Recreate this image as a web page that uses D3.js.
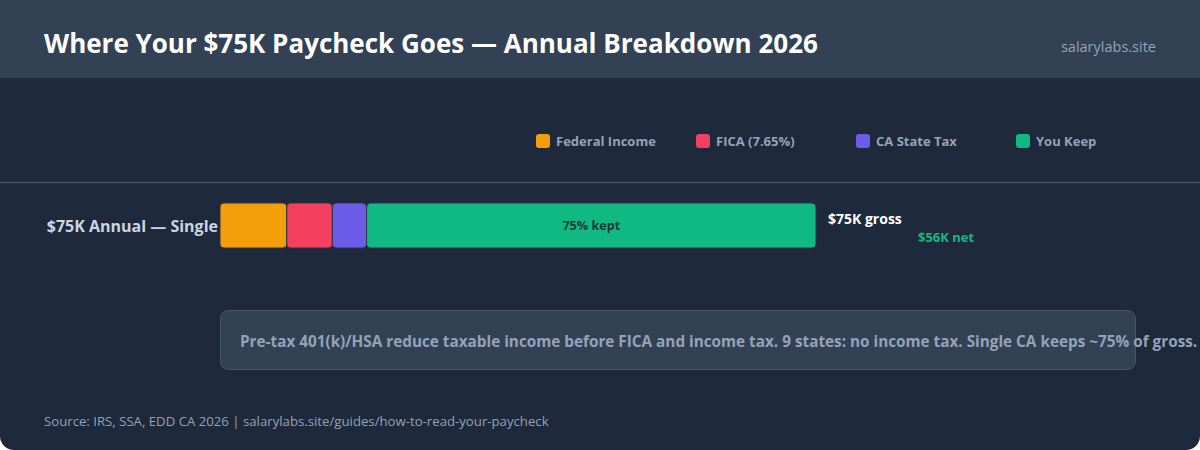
<!DOCTYPE html>
<html>
<head>
<meta charset="utf-8">
<script src="https://cdn.jsdelivr.net/npm/d3@7"></script>
<style>
  html, body { margin: 0; padding: 0; background: #ffffff; }
  svg { display: block; font-family: "Open Sans", "Noto Sans", sans-serif; }
</style>
</head>
<body>
<div id="chart"></div>
<script>
// Data
const categories = ['Federal Income', 'FICA (7.65%)', 'CA State Tax', 'You Keep']
const amounts = [8400, 5740, 4300, 56560]
const colors = ['#f59e0b', '#f43f5e', '#6c5ce7', '#10b981']
const rowLabel = '$75K Annual — Single'
const grossLabel = '$75K gross'
const netLabel = '$56K net'
const keptLabel = '75% kept'
const grossTotal = 75000

function draw(){
    const dims = {
        width: 1200,
        height: 450,
        headerH: 78,
        barX0: 220,
        barX1: 816,
        barY: 203,
        barH: 45
    }

    const svg = d3.select('#chart')
        .append('svg')
        .attr('width', dims.width)
        .attr('height', dims.height)

    // Card
    svg.append('rect')
        .attr('x', 0).attr('y', -20)
        .attr('width', dims.width).attr('height', dims.height + 20)
        .attr('rx', 14)
        .attr('fill', '#1e293b')

    svg.append('rect')
        .attr('x', 0).attr('y', 0)
        .attr('width', dims.width).attr('height', dims.headerH)
        .attr('fill', '#334155')

    svg.append('text')
        .attr('x', 44).attr('y', 53)
        .attr('fill', '#ffffff')
        .style('font-size', '26px')
        .style('font-weight', 700)
        .text('Where Your $75K Paycheck Goes — Annual Breakdown 2026')

    svg.append('text')
        .attr('x', 1156).attr('y', 52)
        .attr('text-anchor', 'end')
        .attr('fill', '#94a3b8')
        .style('font-size', '14.5px')
        .text('salarylabs.site')

    // Legend
    const legend = svg.append('g')
        .selectAll('g')
        .data(categories)
        .join('g')
        .attr('transform', (d, i) => `translate(${536 + i * 160}, 134)`)

    legend.append('rect')
        .attr('width', 14).attr('height', 14)
        .attr('rx', 3)
        .attr('fill', (d, i) => colors[i])

    legend.append('text')
        .attr('x', 20).attr('y', 12)
        .attr('fill', '#94a3b8')
        .style('font-size', '13px')
        .style('font-weight', 700)
        .text(d => d)

    svg.append('line')
        .attr('x1', 0).attr('x2', dims.width)
        .attr('y1', 182.5).attr('y2', 182.5)
        .attr('stroke', '#475569')
        .attr('stroke-width', 1.5)

    // Scale
    const xScale = d3.scaleLinear()
        .domain([0, grossTotal])
        .range([dims.barX0, dims.barX1])

    const stacked = []
    let acc = 0
    amounts.forEach((v, i) => {
        stacked.push({ key: categories[i], start: acc, end: acc + v, color: colors[i] })
        acc += v
    })

    svg.append('text')
        .attr('x', 218).attr('y', dims.barY + dims.barH / 2 + 6)
        .attr('text-anchor', 'end')
        .attr('fill', '#cbd5e1')
        .style('font-size', '16px')
        .style('font-weight', 700)
        .text(rowLabel)

    svg.append('g')
        .selectAll('rect')
        .data(stacked)
        .join('rect')
        .attr('x', d => xScale(d.start))
        .attr('y', dims.barY)
        .attr('width', d => xScale(d.end) - xScale(d.start))
        .attr('height', dims.barH)
        .attr('rx', 4)
        .attr('fill', d => d.color)
        .attr('stroke', '#2b3648')
        .attr('stroke-width', 1)

    const keep = stacked[stacked.length - 1]
    svg.append('text')
        .attr('x', (xScale(keep.start) + xScale(keep.end)) / 2)
        .attr('y', dims.barY + dims.barH / 2 + 4.5)
        .attr('text-anchor', 'middle')
        .attr('fill', '#1e3a3a')
        .style('font-size', '12.6px')
        .style('font-weight', 700)
        .text(keptLabel)

    svg.append('text')
        .attr('x', xScale(grossTotal) + 12).attr('y', 224)
        .attr('fill', '#ffffff')
        .style('font-size', '14px')
        .style('font-weight', 700)
        .text(grossLabel)

    svg.append('text')
        .attr('x', xScale(grossTotal) + 102).attr('y', 242)
        .attr('fill', '#10b981')
        .style('font-size', '13px')
        .style('font-weight', 700)
        .text(netLabel)

    // Note box
    svg.append('rect')
        .attr('x', 220.5).attr('y', 310.5)
        .attr('width', 915).attr('height', 59)
        .attr('rx', 8)
        .attr('fill', '#334155')
        .attr('stroke', '#475569')
        .attr('stroke-width', 1)

    svg.append('text')
        .attr('x', 240).attr('y', 347)
        .attr('fill', '#94a3b8')
        .style('font-size', '15.3px')
        .style('font-weight', 700)
        .text('Pre-tax 401(k)/HSA reduce taxable income before FICA and income tax. 9 states: no income tax. Single CA keeps ~75% of gross.')

    svg.append('text')
        .attr('x', 44).attr('y', 426)
        .attr('fill', '#94a3b8')
        .style('font-size', '13.2px')
        .text('Source: IRS, SSA, EDD CA 2026 | salarylabs.site/guides/how-to-read-your-paycheck')
}
draw()
</script>
</body>
</html>
